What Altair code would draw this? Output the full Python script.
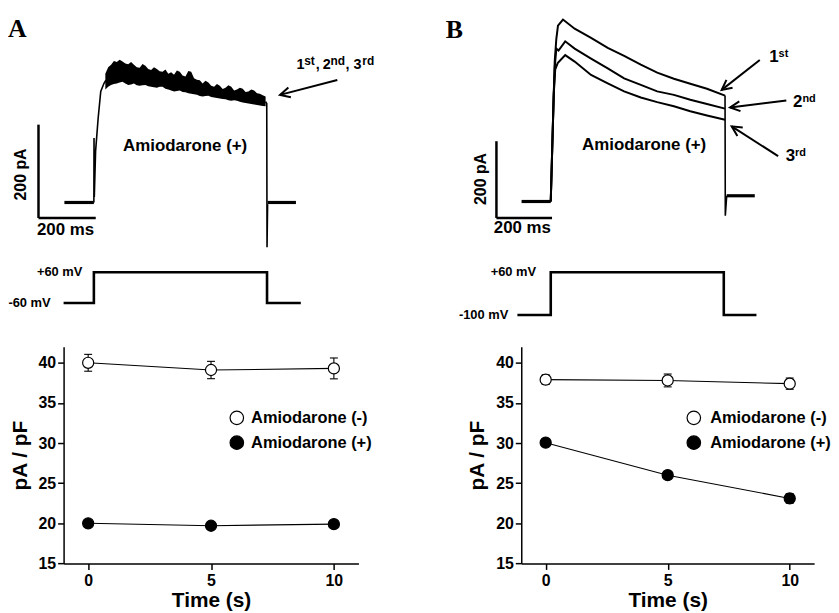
import altair as alt
import pandas as pd

SANS = "Liberation Sans"
SERIF = "Liberation Serif"

# ======================= Panel A : current traces (ms, pA) =======================
A_T_DOM = [-105.8, 924.4]
A_I_DOM = [-128.3, 397.2]

a_pre_t = [-103, 0]
a_pre_i = [0, 0]
a_post_t = [607, 706]
a_post_i = [0, 0]
a_rise_t = [0, 0.5, 1.5, 6, 15, 24, 35, 42]
a_rise_i = [0, 138, 12, 110, 181, 238, 255, 262]
a_drop_t = [600, 604, 605, 607]
a_drop_i = [216, 212, -96, -4]
a_band_t = [40, 50, 60, 70, 80, 90, 100, 110, 120, 130, 140, 150, 160, 170, 180, 190, 200,
            210, 220, 230, 240, 250, 260, 270, 280, 290, 300, 310, 320, 330, 340, 350, 360,
            370, 380, 390, 400, 410, 420, 430, 440, 450, 460, 470, 480, 490, 500, 510, 520,
            530, 540, 550, 560, 570, 580, 590, 600]
a_band_hi = [276, 290, 295, 303, 301, 306, 302, 298, 296, 301, 295, 290, 289, 297, 293, 286, 284,
             290, 286, 281, 280, 285, 276, 279, 274, 283, 280, 272, 270, 282, 280, 266, 263,
             262, 255, 261, 257, 250, 248, 254, 250, 243, 246, 251, 248, 240, 242, 246, 244,
             237, 238, 242, 240, 234, 233, 230, 227]
a_band_lo = [242, 248, 252, 254, 255, 257, 259, 255, 252, 253, 255, 251, 250, 251, 252, 249, 248,
             247, 246, 248, 248, 244, 242, 240, 238, 239, 240, 237, 236, 234, 233, 232, 231,
             228, 227, 228, 229, 226, 225, 224, 223, 222, 221, 219, 218, 219, 218, 216, 214,
             213, 212, 211, 210, 209, 208, 207, 206]

# scale bars (200 ms / 200 pA)
a_bar_t1 = [-193.5, -193.5]
a_bar_t2 = [-193.5, 6.5]
a_bar_i1 = [166.8, -33.2]
a_bar_i2 = [-33.2, -33.2]

# ======================= Panel B : current traces (ms, pA) =======================
B_T_DOM = [-106.1, 947.5]
B_I_DOM = [-159.2, 482.3]

b_pre_t = [-105, 0]
b_pre_i = [0, 0]
b_post_t = [633, 734]
b_post_i = [15, 15]
b_drop_t = [627, 628, 633]
b_drop_i = [277, -37, 15]
b1_t = [0, 5.7, 10.7, 14.3, 20, 26, 44, 86, 145, 205, 264, 324, 383, 443, 502, 562, 627]
b1_i = [0, 149, 279, 367, 425, 460, 476, 452, 428, 402, 381, 358, 337, 321, 308, 295, 277]
b2_t = [0, 5.7, 10.7, 14.3, 20, 28, 52, 86, 145, 205, 264, 324, 383, 443, 502, 562, 627]
b2_i = [0, 149, 279, 350, 400, 395, 419, 400, 374, 348, 322, 305, 288, 279, 266, 255, 243]
b3_t = [0, 5.7, 10.7, 16, 25, 52, 86, 145, 205, 264, 324, 383, 443, 502, 562, 627]
b3_i = [0, 149, 279, 345, 362, 383, 366, 331, 309, 288, 272, 260, 249, 236, 225, 214]

b_bar_t1 = [-195.4, -195.4]
b_bar_t2 = [-195.4, 4.6]
b_bar_i1 = [157.7, -43.1]
b_bar_i2 = [-43.1, -43.1]

# ======================= voltage protocols (ms, mV) =======================
A_V_DOM = [-229.2, 98.7]
B_V_DOM = [-218.0, 97.2]
va_t = [-105.8, 0, 0, 605, 605, 723]
va_v = [-60, -60, 60, 60, -60, -60]
vb_t = [-120, 0, 0, 622.5, 622.5, 740]
vb_v = [-100, -100, 60, 60, -100, -100]

# ======================= summary data (pA/pF) =======================
time_s = [0, 5, 10]
a_minus = [40.0, 39.1, 39.3]
a_minus_err = [1.05, 1.08, 1.3]
a_plus = [20.0, 19.7, 19.9]
a_plus_err = [0.2, 0.2, 0.15]
b_minus = [37.9, 37.8, 37.4]
b_minus_err = [0.6, 0.8, 0.7]
b_plus = [30.05, 26.0, 23.1]
b_plus_err = [0.3, 0.45, 0.6]
legend_labels = ["Amiodarone (-)", "Amiodarone (+)"]
legend_fill = ["white", "black"]
legend_y = [33.14, 30.05]


def sc(dom):
    return alt.Scale(domain=dom, nice=False, zero=False)


def seg_df(segs):
    rows = []
    for name, ts, vals, w in segs:
        for k, (t, v) in enumerate(zip(ts, vals)):
            rows.append({"seg": name, "t": t, "i": v, "o": k, "w": w})
    return pd.DataFrame(rows)


def lines_layer(df, tdom, idom, color="black"):
    return alt.Chart(df).mark_line(color=color).encode(
        x=alt.X("t:Q", scale=sc(tdom), axis=None),
        y=alt.Y("i:Q", scale=sc(idom), axis=None),
        detail="seg:N",
        order="o:Q",
        strokeWidth=alt.StrokeWidth("w:Q", scale=None),
    )


def bars_layer(t1, t2, i1, i2, tdom, idom):
    df = pd.DataFrame({"t1": t1, "t2": t2, "i1": i1, "i2": i2})
    return alt.Chart(df).mark_rule(color="black", strokeWidth=2.5).encode(
        x=alt.X("t1:Q", scale=sc(tdom), axis=None),
        x2="t2:Q",
        y=alt.Y("i1:Q", scale=sc(idom), axis=None),
        y2="i2:Q",
    )


def text_layer(df, tdom, idom, **kw):
    return alt.Chart(df).mark_text(color="black", **kw).encode(
        x=alt.X("t:Q", scale=sc(tdom), axis=None),
        y=alt.Y("i:Q", scale=sc(idom), axis=None),
        text="s:N",
    )


def arrow_layers(df, tdom, idom):
    shaft = alt.Chart(df).mark_rule(color="black", strokeWidth=2).encode(
        x=alt.X("t1:Q", scale=sc(tdom), axis=None),
        x2="t2:Q",
        y=alt.Y("i1:Q", scale=sc(idom), axis=None),
        y2="i2:Q",
    )
    head = alt.Chart(df).mark_point(
        shape="M-1,-0.5L0,0L-1,0.5", filled=False, size=400, strokeWidth=2,
        color="black", opacity=1,
    ).encode(
        x=alt.X("t2:Q", scale=sc(tdom), axis=None),
        y=alt.Y("i2:Q", scale=sc(idom), axis=None),
        angle=alt.Angle("ang:Q", scale=None),
    )
    return [shaft, head]


TRACE_W_A, TRACE_W_B, TRACE_H = 297, 295, 247

# ---------------- trace A chart ----------------
a_lines = seg_df([
    ("pre", a_pre_t, a_pre_i, 3.2),
    ("post", a_post_t, a_post_i, 3.2),
    ("rise", a_rise_t, a_rise_i, 1.6),
    ("drop", a_drop_t, a_drop_i, 1.6),
])
a_band = alt.Chart(pd.DataFrame({"t": a_band_t, "lo": a_band_lo, "hi": a_band_hi})).mark_area(
    color="black", opacity=1
).encode(
    x=alt.X("t:Q", scale=sc(A_T_DOM), axis=None),
    y=alt.Y("lo:Q", scale=sc(A_I_DOM), axis=None),
    y2="hi:Q",
)

a_txt_big = pd.DataFrame({"s": ["Amiodarone (+)", "200 ms"], "t": [319, -99], "i": [120.6, -60]})
a_txt_rot = pd.DataFrame({"s": ["200 pA"], "t": [-255], "i": [60]})
a_letter = pd.DataFrame({"s": ["A"], "t": [-300], "i": [354.7]})
a_main = pd.DataFrame({"s": ["1", ",", "2", ",", "3"], "t": [708, 775, 799.5, 879, 907],
                       "i": [286, 286, 286, 286, 286]})
a_sup = pd.DataFrame({"s": ["st", "nd", "rd"], "t": [735, 827, 938], "i": [294, 294, 294]})
a_arrow = pd.DataFrame({"t1": [850.5], "i1": [262.5], "t2": [650.4], "i2": [230.6], "ang": [165.4]})

traceA = alt.layer(
    a_band,
    lines_layer(a_lines, A_T_DOM, A_I_DOM),
    bars_layer(a_bar_t1, a_bar_t2, a_bar_i1, a_bar_i2, A_T_DOM, A_I_DOM),
    text_layer(a_txt_big, A_T_DOM, A_I_DOM, font=SANS, fontWeight="bold", fontSize=17,
               align="center", baseline="middle"),
    text_layer(a_txt_rot, A_T_DOM, A_I_DOM, font=SANS, fontWeight="bold", fontSize=16,
               align="center", baseline="middle", angle=270),
    text_layer(a_letter, A_T_DOM, A_I_DOM, font=SERIF, fontWeight="bold", fontSize=26,
               align="left", baseline="alphabetic"),
    text_layer(a_main, A_T_DOM, A_I_DOM, font=SANS, fontWeight="bold", fontSize=14.5,
               align="left", baseline="alphabetic"),
    text_layer(a_sup, A_T_DOM, A_I_DOM, font=SANS, fontWeight="bold", fontSize=12,
               align="left", baseline="alphabetic"),
    *arrow_layers(a_arrow, A_T_DOM, A_I_DOM),
).properties(width=TRACE_W_A, height=TRACE_H)

# ---------------- trace B chart ----------------
b_lines = seg_df([
    ("pre", b_pre_t, b_pre_i, 3.2),
    ("post", b_post_t, b_post_i, 3.2),
    ("drop", b_drop_t, b_drop_i, 1.6),
    ("first", b1_t, b1_i, 2.0),
    ("second", b2_t, b2_i, 2.0),
    ("third", b3_t, b3_i, 2.0),
])
b_txt_big = pd.DataFrame({"s": ["Amiodarone (+)", "200 ms"], "t": [336, -102], "i": [147, -70]})
b_txt_rot = pd.DataFrame({"s": ["200 pA"], "t": [-250], "i": [59]})
b_letter = pd.DataFrame({"s": ["B"], "t": [-377.5], "i": [427.8]})
b_main = pd.DataFrame({"s": ["1", "2", "3"], "t": [785.7, 871.4, 845], "i": [365.5, 246, 105.7]})
b_sup = pd.DataFrame({"s": ["st", "nd", "rd"], "t": [819.6, 905.4, 879], "i": [378.4, 259, 118.7]})
b_arrow = pd.DataFrame({
    "t1": [752, 847.5, 818], "i1": [370, 264, 118.7],
    "t2": [615, 645, 651], "i2": [292, 246, 196.6],
    "ang": [141.9, 173, 212.7],
})

traceB = alt.layer(
    lines_layer(b_lines, B_T_DOM, B_I_DOM),
    bars_layer(b_bar_t1, b_bar_t2, b_bar_i1, b_bar_i2, B_T_DOM, B_I_DOM),
    text_layer(b_txt_big, B_T_DOM, B_I_DOM, font=SANS, fontWeight="bold", fontSize=17,
               align="center", baseline="middle"),
    text_layer(b_txt_rot, B_T_DOM, B_I_DOM, font=SANS, fontWeight="bold", fontSize=16,
               align="center", baseline="middle", angle=270),
    text_layer(b_letter, B_T_DOM, B_I_DOM, font=SERIF, fontWeight="bold", fontSize=26,
               align="left", baseline="alphabetic"),
    text_layer(b_main, B_T_DOM, B_I_DOM, font=SANS, fontWeight="bold", fontSize=17,
               align="left", baseline="alphabetic"),
    text_layer(b_sup, B_T_DOM, B_I_DOM, font=SANS, fontWeight="bold", fontSize=11,
               align="left", baseline="alphabetic"),
    *arrow_layers(b_arrow, B_T_DOM, B_I_DOM),
).properties(width=TRACE_W_B, height=TRACE_H)

# ---------------- voltage protocol charts ----------------
VOLT_H = 84.7


def volt_chart(ts, vs, tdom, vdom, labels, label_t, label_v, width):
    df = pd.DataFrame({"t": ts, "v": vs, "o": list(range(len(ts)))})
    line = alt.Chart(df).mark_line(color="black", strokeWidth=2.6).encode(
        x=alt.X("t:Q", scale=sc(tdom), axis=None),
        y=alt.Y("v:Q", scale=sc(vdom), axis=None),
        order="o:Q",
    )
    lab = alt.Chart(pd.DataFrame({"s": labels, "t": label_t, "v": label_v})).mark_text(
        font=SANS, fontWeight="bold", fontSize=13, align="right", baseline="middle", color="black"
    ).encode(
        x=alt.X("t:Q", scale=sc(tdom), axis=None),
        y=alt.Y("v:Q", scale=sc(vdom), axis=None),
        text="s:N",
    )
    return alt.layer(line, lab).properties(width=width, height=VOLT_H)


voltA = volt_chart(va_t, va_v, A_T_DOM, A_V_DOM, ["+60 mV", "-60 mV"], [-40, -151], [60, -60], TRACE_W_A)
voltB = volt_chart(vb_t, vb_v, B_T_DOM, B_V_DOM, ["+60 mV", "-100 mV"], [-52.5, -152.5], [60, -100], TRACE_W_B)

# ---------------- summary charts ----------------
SC_H = 218.3
X_DOM = [-1, 11]
Y_DOM = [15, 42]


def summary_chart(minus, minus_err, plus, plus_err, leg_x, leg_tx, width):
    rows = []
    for name, vals, errs, fill in [("minus", minus, minus_err, "white"), ("plus", plus, plus_err, "black")]:
        for t, v, e in zip(time_s, vals, errs):
            rows.append({"series": name, "t": t, "v": v, "lo": v - e, "hi": v + e, "fill": fill})
    df = pd.DataFrame(rows)
    xenc = alt.X("t:Q", scale=sc(X_DOM),
                 axis=alt.Axis(values=[0, 5, 10], title="Time (s)", labelPadding=3, titlePadding=1))
    yenc = alt.Y("v:Q", scale=sc(Y_DOM),
                 axis=alt.Axis(values=[15, 20, 25, 30, 35, 40], title="pA / pF",
                               labelPadding=2, titlePadding=8))
    base = alt.Chart(df)
    line = base.mark_line(color="black", strokeWidth=1.1).encode(x=xenc, y=yenc, detail="series:N")
    err = base.mark_rule(color="black", strokeWidth=1.1).encode(
        x=alt.X("t:Q", scale=sc(X_DOM)), y=alt.Y("lo:Q", scale=sc(Y_DOM)), y2="hi:Q")
    cap_lo = base.mark_tick(color="black", orient="horizontal", size=8, thickness=1.1, opacity=1).encode(
        x=alt.X("t:Q", scale=sc(X_DOM)), y=alt.Y("lo:Q", scale=sc(Y_DOM)))
    cap_hi = base.mark_tick(color="black", orient="horizontal", size=8, thickness=1.1, opacity=1).encode(
        x=alt.X("t:Q", scale=sc(X_DOM)), y=alt.Y("hi:Q", scale=sc(Y_DOM)))
    pts = base.mark_point(filled=True, size=125, stroke="black", strokeWidth=1.2, opacity=1,
                          shape="circle").encode(
        x=alt.X("t:Q", scale=sc(X_DOM)), y=alt.Y("v:Q", scale=sc(Y_DOM)),
        fill=alt.Fill("fill:N", scale=None))
    leg = pd.DataFrame({"s": legend_labels, "fill": legend_fill, "y": legend_y,
                        "x": [leg_x, leg_x], "tx": [leg_tx, leg_tx]})
    leg_pts = alt.Chart(leg).mark_point(filled=True, size=185, stroke="black", strokeWidth=1.2,
                                        opacity=1, shape="circle").encode(
        x=alt.X("x:Q", scale=sc(X_DOM)), y=alt.Y("y:Q", scale=sc(Y_DOM)),
        fill=alt.Fill("fill:N", scale=None))
    leg_txt = alt.Chart(leg).mark_text(font=SANS, fontWeight="bold", fontSize=16.5, align="left",
                                       baseline="middle", color="black").encode(
        x=alt.X("tx:Q", scale=sc(X_DOM)), y=alt.Y("y:Q", scale=sc(Y_DOM)), text="s:N")
    return alt.layer(line, err, cap_lo, cap_hi, pts, leg_pts, leg_txt).properties(width=width, height=SC_H)


scatA = summary_chart(a_minus, a_minus_err, a_plus, a_plus_err, 6.05, 6.63, TRACE_W_A)
scatB = summary_chart(b_minus, b_minus_err, b_plus, b_plus_err, 6.07, 6.74, TRACE_W_B)

chart = alt.concat(
    traceA, traceB, voltA, voltB, scatA, scatB,
    columns=2, spacing={"row": 0, "column": 164}, bounds="flush",
).properties(
    padding={"left": 0, "top": 5, "right": 0, "bottom": 0}
).configure_view(stroke=None).configure_axis(
    labelFont=SANS, titleFont=SANS, labelFontWeight="bold", titleFontWeight="bold",
    labelFontSize=16, titleFontSize=21, labelColor="black", titleColor="black",
    domainColor="black", tickColor="black", domainWidth=1.5, tickWidth=1.5, tickSize=6,
    grid=False,
)

chart.save("out.html", embed_options={"renderer": "svg", "actions": False})
